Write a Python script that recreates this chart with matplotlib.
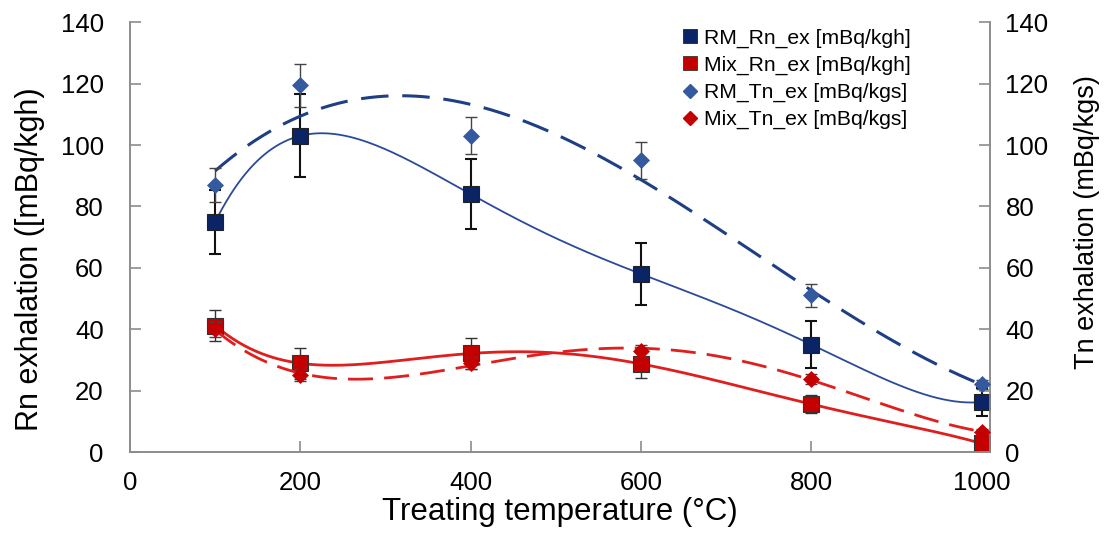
import numpy as np
import matplotlib
matplotlib.use("Agg")
import matplotlib.pyplot as plt
from matplotlib.lines import Line2D

plt.rcParams['font.family'] = ['Liberation Sans', 'DejaVu Sans']

temps = [100, 200, 400, 600, 800, 1000]
rm_rn = [75, 103, 84, 58, 35, 16.3]
rm_rn_err = [10.5, 13.5, 11.5, 10, 7.7, 4.5]
mix_rn = [41.2, 28.9, 32.1, 28.7, 15.6, 2.8]
mix_rn_err = [5, 5, 5, 4.7, 3, 1]
rm_tn = [87, 119.5, 103, 95, 51, 22]
rm_tn_err = [5.5, 7, 6, 6, 3.8, 1.5]
mix_tn = [40, 25, 29, 33, 23.8, 6.6]
mix_tn_err = [2.5, 2, 2, 2, 1.5, 1]

x_ticks = [0, 200, 400, 600, 800, 1000]
y_ticks = [0, 20, 40, 60, 80, 100, 120, 140]

c_rm_rn = '#0b2466'
c_rm_rn_line = '#2a4a9a'
c_rm_tn = '#34599e'
c_rm_tn_line = '#1e3f86'
c_mix = '#c40000'
c_mix_line = '#e01e1e'

fig = plt.figure(figsize=(11.07, 5.42), dpi=100)
ax = fig.add_axes([0.1175, 0.166, 0.777, 0.793])
ax2 = ax.twinx()

xs = np.linspace(100, 1000, 400)
t = np.array(temps, dtype=float)

def fit(y, deg):
    p = np.polyfit(t, np.array(y, dtype=float), deg)
    return np.polyval(p, xs)

# curves
ax.plot(xs, fit(rm_rn, 5), color=c_rm_rn_line, lw=1.3, zorder=2)
ax.plot(xs, fit(mix_rn, 5), color=c_mix_line, lw=2.0, zorder=2)
ax2.plot(xs, fit(rm_tn, 3), color=c_rm_tn_line, lw=2.2, ls=(0, (9, 4.5)), zorder=2)
ax2.plot(xs, fit(mix_tn, 4), color=c_mix_line, lw=2.0, ls=(0, (9, 4)), zorder=2)

# error bars
ax.errorbar(temps, rm_rn, yerr=rm_rn_err, fmt='none', ecolor='#111111', elinewidth=1.5, capsize=4, capthick=1.5, zorder=3)
ax.errorbar(temps, mix_rn, yerr=mix_rn_err, fmt='none', ecolor='#333333', elinewidth=1.0, capsize=4, capthick=1.0, zorder=3)
ax2.errorbar(temps, rm_tn, yerr=rm_tn_err, fmt='none', ecolor='#444444', elinewidth=1.0, capsize=4, capthick=1.0, zorder=3)
ax2.errorbar(temps, mix_tn, yerr=mix_tn_err, fmt='none', ecolor='#444444', elinewidth=1.0, capsize=4, capthick=1.0, zorder=3)

# markers
ax.plot(temps, rm_rn, ls='none', marker='s', ms=12, mfc=c_rm_rn, mec='#222222', mew=0.8, zorder=4)
ax.plot(temps, mix_rn, ls='none', marker='s', ms=12, mfc=c_mix, mec='#333333', mew=0.8, zorder=4)
ax2.plot(temps, rm_tn, ls='none', marker='D', ms=8.5, mfc=c_rm_tn, mec=c_rm_tn, mew=0.5, zorder=4)
ax2.plot(temps, mix_tn, ls='none', marker='D', ms=8.5, mfc=c_mix, mec=c_mix, mew=0.5, zorder=4)

for a in (ax, ax2):
    a.set_xlim(0, 1010)
    a.set_ylim(0, 140)
    a.set_yticks(y_ticks)
    a.spines['top'].set_visible(False)
    for s in ('left', 'right', 'bottom'):
        a.spines[s].set_color('#8c8c8c')
        a.spines[s].set_linewidth(1.2)
    a.tick_params(direction='in', length=8, width=1.2, color='#8c8c8c', labelsize=18.5)

ax.tick_params(axis='y', pad=19)
ax.tick_params(axis='x', pad=14)
ax2.tick_params(axis='y', pad=11)

ax.set_xticks(x_ticks)
ax.set_xlabel('Treating temperature (°C)', fontsize=22.5, labelpad=1)
ax.set_ylabel('Rn exhalation ([mBq/kgh)', fontsize=22, labelpad=11)
ax2.set_ylabel('Tn exhalation (mBq/kgs)', fontsize=19.5, labelpad=18)
ax.yaxis.label.set_y(0.449)
ax2.yaxis.label.set_y(0.535)

handles = [
    Line2D([], [], ls='none', marker='s', ms=10, mfc=c_rm_rn, mec='#222222', mew=0.6),
    Line2D([], [], ls='none', marker='s', ms=10, mfc=c_mix, mec='#333333', mew=0.6),
    Line2D([], [], ls='none', marker='D', ms=7.5, mfc=c_rm_tn, mec=c_rm_tn),
    Line2D([], [], ls='none', marker='D', ms=7.5, mfc=c_mix, mec=c_mix),
]
labels = ['RM_Rn_ex [mBq/kgh]', 'Mix_Rn_ex [mBq/kgh]', 'RM_Tn_ex [mBq/kgs]', 'Mix_Tn_ex [mBq/kgs]']
ax2.legend(handles, labels, loc='upper left', bbox_to_anchor=(0.625, 1.02), frameon=False,
           fontsize=15.2, handlelength=0.7, handletextpad=0.3, labelspacing=0.38, borderpad=0.2)

fig.savefig('out.png', dpi=100)
